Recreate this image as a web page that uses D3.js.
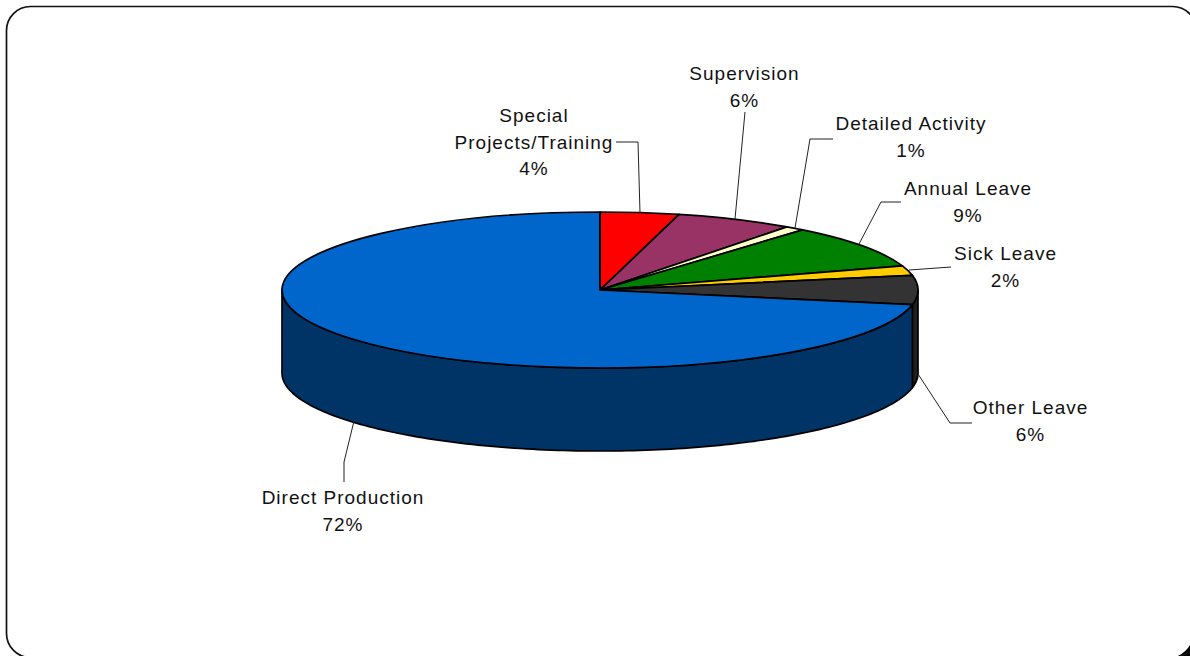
<!DOCTYPE html>
<html><head><meta charset="utf-8">
<script src="https://cdn.jsdelivr.net/npm/d3@7"></script>
<style>html,body{margin:0;padding:0;background:#fff;overflow:hidden}svg{display:block}
text{font-family:"Liberation Sans",Arial,sans-serif;font-size:19px;letter-spacing:1px;fill:#111}</style>
</head><body><div id="c"></div>
<script>
const categories=["Special Projects/Training","Supervision","Detailed Activity","Annual Leave","Sick Leave","Other Leave","Direct Production"];
const values=[4,6,1,9,2,6,72];
const topColors=["#FF0000","#993366","#FFFFCC","#008000","#FFCC00","#333333","#0066CC"];
const sideColors=["#800000","#4d1a33","#808066","#004000","#806600","#1f1f1f","#003366"];
const labelLines=[["Special","Projects/Training","4%"],["Supervision","6%"],["Detailed Activity","1%"],["Annual Leave","9%"],["Sick Leave","2%"],["Other Leave","6%"],["Direct Production","72%"]];
const labelAnchors=[[534,122],[744.5,80],[911,130],[968,195],[1005.5,260],[1030.5,414],[343,504]];
const leaderPaths=[[[640,213],[638,142],[616,142]],[[735,219],[745,112]],[[795,228],[810,139],[833,139]],[[859,244],[881,202],[901,202]],[[909,270],[951,267]],[[918,374],[950,423],[972,423]],[[354,421],[344,462],[344,482]]];

const W=1190,H=656,cx=600,cy=290,rx=318,ry=78,depth=83;
const svg=d3.select("#c").append("svg").attr("width",W).attr("height",H);
svg.append("rect").attr("width",W).attr("height",H).attr("fill","#fff");
svg.append("path").attr("d","M1190 645V656H1178Q1186 652 1190 645Z").attr("fill","#000");
svg.append("rect").attr("x",6.5).attr("y",6.5).attr("width",1190).attr("height",651).attr("rx",24).attr("fill","none").attr("stroke","#111").attr("stroke-width",1.7);

const pie=d3.pie().value(d=>d).sort(null).startAngle(0).endAngle(2*Math.PI);
const arcs=pie(values);
const px=a=>cx+rx*Math.sin(a), py=a=>cy-ry*Math.cos(a);
const wall=(a0,a1)=>{
  const n=Math.max(2,Math.ceil((a1-a0)/0.02));
  const pts=d3.range(n+1).map(i=>a0+(a1-a0)*i/n);
  const top=pts.map(a=>[px(a),py(a)]);
  const bot=pts.slice().reverse().map(a=>[px(a),py(a)+depth]);
  return d3.line()(top.concat(bot))+"Z";
};
const g=svg.append("g");
const vis0=Math.PI/2, vis1=3*Math.PI/2;
arcs.forEach((d,i)=>{
  const a0=Math.max(d.startAngle,vis0), a1=Math.min(d.endAngle,vis1);
  if(a1>a0) g.append("path").attr("d",wall(a0,a1)).attr("fill",sideColors[i]).attr("stroke","#000").attr("stroke-width",1.7).attr("stroke-linejoin","round");
});
const arcGen=d3.arc().innerRadius(0).outerRadius(rx);
const tops=g.append("g").attr("transform",`translate(${cx},${cy}) scale(1,${ry/rx})`);
tops.selectAll("path").data(arcs).join("path").attr("d",arcGen).attr("fill",(d,i)=>topColors[i]).attr("stroke","#000").attr("stroke-width",1.7).attr("vector-effect","non-scaling-stroke").attr("stroke-linejoin","round");

const line=d3.line();
svg.append("g").selectAll("path").data(leaderPaths).join("path").attr("d",d=>line(d)).attr("fill","none").attr("stroke","#222").attr("stroke-width",1);
const lab=svg.append("g");
labelLines.forEach((ls,i)=>{
  const t=lab.append("text").attr("text-anchor","middle").attr("x",labelAnchors[i][0]).attr("y",labelAnchors[i][1]);
  ls.forEach((s,j)=>t.append("tspan").attr("x",labelAnchors[i][0]).attr("y",labelAnchors[i][1]+j*26.5).text(s));
});
</script></body></html>
